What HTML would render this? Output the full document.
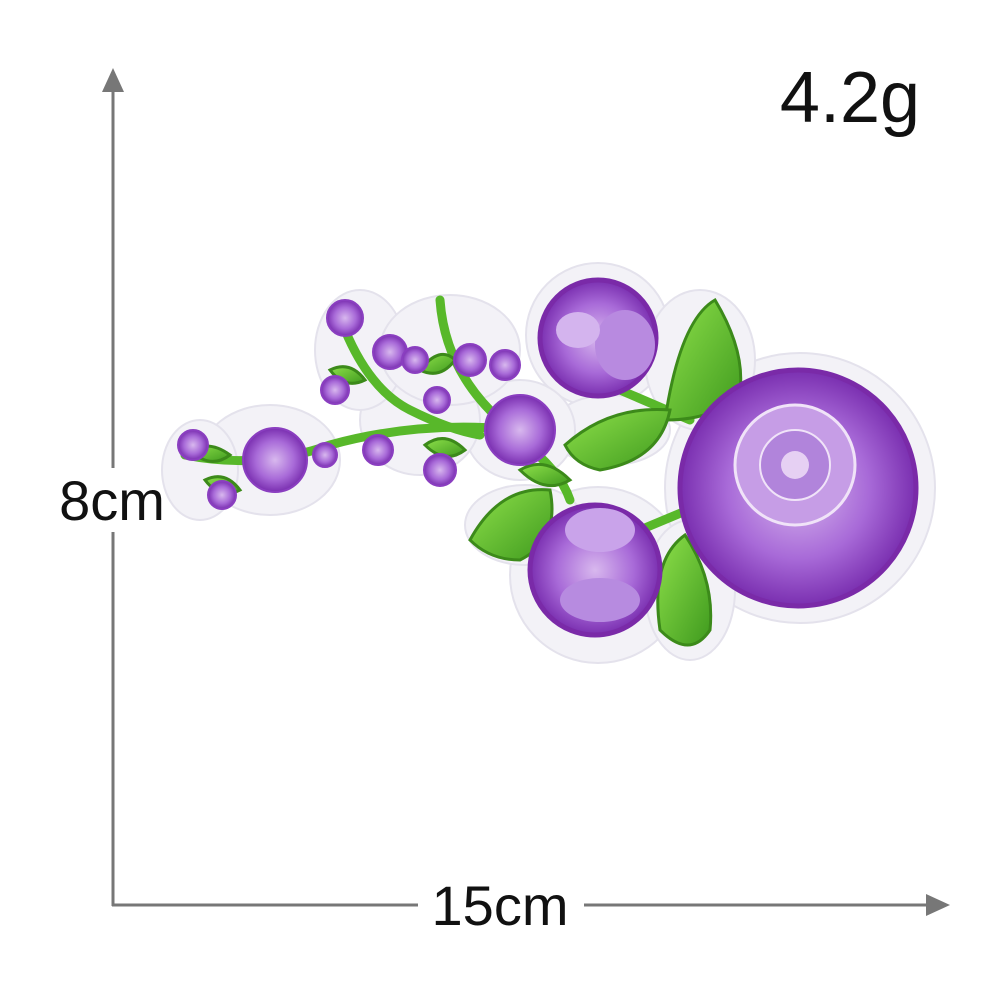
<!DOCTYPE html>
<html><head><meta charset="utf-8"><style>
html,body{margin:0;padding:0;background:#fff;}
svg{display:block;}
text{font-family:"Liberation Sans","DejaVu Sans",sans-serif;fill:#111;}
</style></head><body>
<svg width="1000" height="1000" viewBox="0 0 1000 1000">
  <defs>
    <radialGradient id="pg" cx="50%" cy="50%" r="50%">
      <stop offset="0" stop-color="#d8b8ee"/><stop offset="0.6" stop-color="#a86ad8"/><stop offset="1" stop-color="#7a2fb0"/>
    </radialGradient>
    <linearGradient id="lg" x1="0" y1="0" x2="1" y2="1">
      <stop offset="0" stop-color="#8ee04a"/><stop offset="1" stop-color="#3f9a1e"/>
    </linearGradient>
  </defs>
  <!-- axes -->
  <g>
    <line x1="113" y1="85" x2="113" y2="906" stroke="#777" stroke-width="3"/>
    <polygon points="113,68 102,92 124,92" fill="#777"/>
  </g>
  <g>
    <line x1="112" y1="905" x2="930" y2="905" stroke="#777" stroke-width="3"/>
    <polygon points="950,905 926,894 926,916" fill="#777"/>
  </g>
  <rect x="418" y="875" width="166" height="60" fill="#fff"/>
  <rect x="50" y="468" width="125" height="64" fill="#fff"/>
  <text x="112" y="520" font-size="56" text-anchor="middle">8cm</text>
  <text x="500" y="925" font-size="56" text-anchor="middle">15cm</text>
  <text x="850" y="122" font-size="72" text-anchor="middle">4.2g</text>

  <g>
    <!-- white backing -->
    <g fill="#f3f2f7" stroke="#e4e2ec" stroke-width="2">
      <circle cx="800" cy="488" r="135"/>
      <circle cx="598" cy="575" r="88"/>
      <circle cx="598" cy="335" r="72"/>
      <ellipse cx="700" cy="360" rx="55" ry="70"/>
      <ellipse cx="690" cy="590" rx="45" ry="70"/>
      <ellipse cx="525" cy="525" rx="60" ry="40"/>
      <ellipse cx="610" cy="430" rx="60" ry="35"/>
      <ellipse cx="520" cy="430" rx="55" ry="50"/>
      <ellipse cx="420" cy="420" rx="60" ry="55"/>
      <ellipse cx="360" cy="350" rx="45" ry="60"/>
      <ellipse cx="270" cy="460" rx="70" ry="55"/>
      <ellipse cx="200" cy="470" rx="38" ry="50"/>
      <ellipse cx="450" cy="350" rx="70" ry="55"/>
    </g>
    <!-- stems -->
    <g fill="none" stroke="#58b82a" stroke-width="9" stroke-linecap="round">
      <path d="M185 455 Q260 470 330 445 Q420 420 520 430"/>
      <path d="M345 330 Q370 390 410 410 Q450 430 480 435"/>
      <path d="M440 300 Q445 370 500 420"/>
      <path d="M520 440 Q560 470 570 500"/>
      <path d="M640 530 L700 505"/>
      <path d="M620 390 L690 420"/>
    </g>
    <!-- leaves -->
    <g fill="url(#lg)" stroke="#3c8a1a" stroke-width="3">
      <path d="M665 420 Q680 320 715 300 Q745 350 740 390 Q720 420 665 420Z"/>
      <path d="M565 445 Q610 405 670 410 Q660 460 600 470 Q575 465 565 445Z"/>
      <path d="M470 540 Q500 485 550 490 Q560 540 520 560 Q490 560 470 540Z"/>
      <path d="M660 630 Q650 560 685 535 Q715 580 710 630 Q690 660 660 630Z"/>
      <path d="M330 370 Q345 390 365 380 Q350 360 330 370Z"/>
      <path d="M420 370 Q440 345 455 360 Q440 380 420 370Z"/>
      <path d="M190 450 Q210 440 230 455 Q210 470 190 450Z"/>
      <path d="M205 480 Q225 470 240 490 Q220 500 205 480Z"/>
      <path d="M425 445 Q445 430 465 450 Q445 465 425 445Z"/>
      <path d="M520 470 Q545 455 570 480 Q545 495 520 470Z"/>
    </g>
    <!-- big rose -->
    <g>
      <circle cx="798" cy="488" r="118" fill="url(#pg)" stroke="#7a2aa8" stroke-width="5"/>
      <circle cx="795" cy="465" r="60" fill="#c69de6" stroke="#f0e3f8" stroke-width="3"/>
      <circle cx="795" cy="465" r="35" fill="#b184db" stroke="#f0e3f8" stroke-width="2"/>
      <circle cx="795" cy="465" r="14" fill="#e6d0f3"/>
    </g>
    <!-- top rose -->
    <g>
      <circle cx="598" cy="338" r="58" fill="url(#pg)" stroke="#7a2aa8" stroke-width="5"/>
      <ellipse cx="625" cy="345" rx="30" ry="35" fill="#b88ae0"/>
      <ellipse cx="578" cy="330" rx="22" ry="18" fill="#d4b4ee"/>
    </g>
    <!-- bottom rose -->
    <g>
      <circle cx="595" cy="570" r="65" fill="url(#pg)" stroke="#7a2aa8" stroke-width="5"/>
      <ellipse cx="600" cy="530" rx="35" ry="22" fill="#c9a3ea"/>
      <ellipse cx="600" cy="600" rx="40" ry="22" fill="#b78be0"/>
    </g>
    <!-- small buds -->
    <g fill="url(#pg)" stroke="#8a3ec0" stroke-width="2">
      <circle cx="520" cy="430" r="35"/>
      <circle cx="275" cy="460" r="32"/>
      <circle cx="193" cy="445" r="15"/>
      <circle cx="222" cy="495" r="14"/>
      <circle cx="325" cy="455" r="12"/>
      <circle cx="345" cy="318" r="18"/>
      <circle cx="335" cy="390" r="14"/>
      <circle cx="390" cy="352" r="17"/>
      <circle cx="415" cy="360" r="13"/>
      <circle cx="378" cy="450" r="15"/>
      <circle cx="437" cy="400" r="13"/>
      <circle cx="440" cy="470" r="16"/>
      <circle cx="470" cy="360" r="16"/>
      <circle cx="505" cy="365" r="15"/>
    </g>
  </g>
</svg>
</body></html>
